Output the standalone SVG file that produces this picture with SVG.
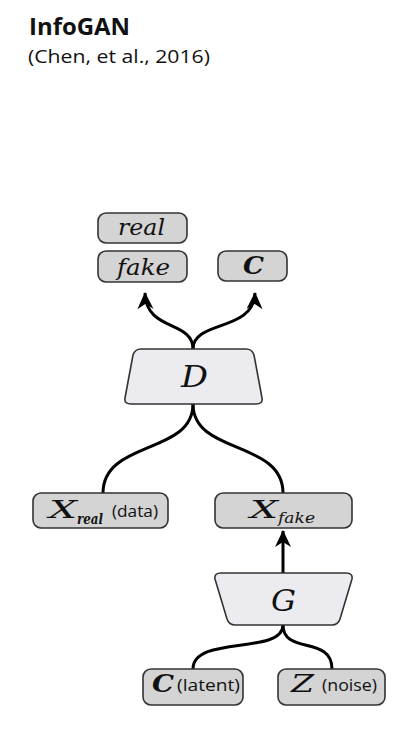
<svg xmlns="http://www.w3.org/2000/svg" width="414" height="730" viewBox="0 0 414 730">
<style>
.box{fill:#d4d4d4;stroke:#333;stroke-width:1.6}
.trap{fill:#ebebf0;stroke:#333;stroke-width:1.6;stroke-linejoin:round}
.math{font-family:"DejaVu Serif","Liberation Serif",serif;font-style:italic;fill:#111}
.cal{font-family:"DejaVu Serif","Liberation Serif",serif;font-style:italic;font-weight:bold;fill:#111}
.sans{font-family:"Open Sans","Noto Sans",sans-serif;fill:#111}
.con{fill:none;stroke:#000;stroke-width:3}
</style>
<defs>
<marker id="arr" markerUnits="userSpaceOnUse" markerWidth="18" markerHeight="18" viewBox="0 0 18 18" refX="16" refY="9" orient="auto">
<path d="M0,1 L17,9 L0,17 L5,9 z" fill="#000"/>
</marker>
</defs>
<text x="29" y="35" class="sans" font-size="24" font-weight="bold" textLength="101" lengthAdjust="spacingAndGlyphs">InfoGAN</text>
<text x="28" y="63" class="sans" font-size="19" textLength="182" lengthAdjust="spacingAndGlyphs">(Chen, et al., 2016)</text>
<g id="connectors">
<path class="con" d="M193,349 C193,320 146,332 145,293" marker-end="url(#arr)"/>
<path class="con" d="M193,349 C193,320 254,332 255,293" marker-end="url(#arr)"/>
<path class="con" d="M193,404 C193,455 103,440 103,493"/>
<path class="con" d="M193,404 C193,455 283,440 283,493"/>
<path class="con" d="M283,573 L283,531" marker-end="url(#arr)"/>
<path class="con" d="M283,625 C283,655 193,635 193,669"/>
<path class="con" d="M283,625 C283,655 332,635 332,669"/>
</g>
<g id="real">
<rect class="box" x="98" y="213" width="89" height="30" rx="8"/>
<text x="118" y="235" class="math" font-size="22" textLength="47" lengthAdjust="spacingAndGlyphs">real</text>
</g>
<g id="fake">
<rect class="box" x="98" y="251" width="89" height="31" rx="8"/>
<text x="117" y="275" class="math" font-size="22" textLength="53" lengthAdjust="spacingAndGlyphs">fake</text>
</g>
<g id="c_out">
<rect class="box" x="218" y="251" width="69" height="30" rx="8"/>
<text x="243" y="274" class="cal" font-size="24" textLength="21" lengthAdjust="spacingAndGlyphs">C</text>
</g>
<g id="D">
<path class="trap" d="M141,349 L246,349 Q252,349 254,355 L262,398 Q263,404 256,404 L131,404 Q124,404 125,398 L133,355 Q135,349 141,349 z"/>
<text x="181" y="387" class="math" font-size="30" textLength="27" lengthAdjust="spacingAndGlyphs">D</text>
</g>
<g id="Xreal">
<rect class="box" x="33" y="493" width="135" height="35" rx="8"/>
<text x="49" y="518" class="math" font-size="25" textLength="28" lengthAdjust="spacingAndGlyphs">X</text>
<text x="77" y="524" class="math" font-size="15" font-weight="bold" textLength="26" lengthAdjust="spacingAndGlyphs">real</text>
<text x="112" y="517" class="sans" font-size="16" textLength="46" lengthAdjust="spacingAndGlyphs">(data)</text>
</g>
<g id="Xfake">
<rect class="box" x="215" y="493" width="137" height="35" rx="8"/>
<text x="250" y="518" class="math" font-size="25" textLength="28" lengthAdjust="spacingAndGlyphs">X</text>
<text x="278" y="523" class="math" font-size="15" textLength="37" lengthAdjust="spacingAndGlyphs">fake</text>
</g>
<g id="G">
<path class="trap" d="M221,573 L346,573 Q353,573 352,579 L340,619 Q338,625 332,625 L235,625 Q229,625 227,619 L215,579 Q214,573 221,573 z"/>
<text x="271" y="611" class="math" font-size="30" textLength="25" lengthAdjust="spacingAndGlyphs">G</text>
</g>
<g id="c_latent">
<rect class="box" x="143" y="669" width="100" height="36" rx="8"/>
<text x="152" y="692" class="cal" font-size="25" textLength="22" lengthAdjust="spacingAndGlyphs">C</text>
<text x="177" y="691" class="sans" font-size="16" textLength="63" lengthAdjust="spacingAndGlyphs">(latent)</text>
</g>
<g id="Z">
<rect class="box" x="278" y="669" width="107" height="36" rx="8"/>
<text x="291" y="692" class="math" font-size="25" textLength="23" lengthAdjust="spacingAndGlyphs">Z</text>
<text x="322" y="691" class="sans" font-size="16" textLength="55" lengthAdjust="spacingAndGlyphs">(noise)</text>
</g>
</svg>
